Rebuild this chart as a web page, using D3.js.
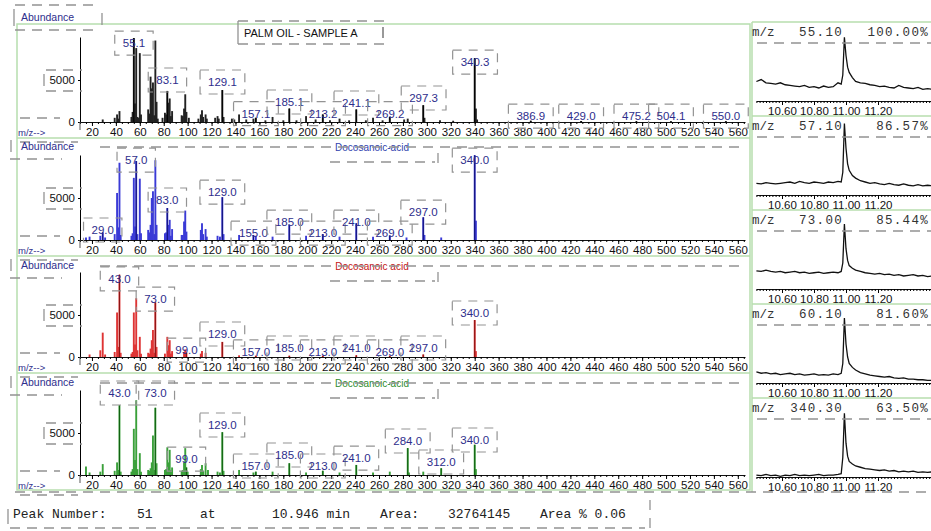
<!DOCTYPE html>
<html>
<head>
<meta charset="utf-8">
<script src="https://cdn.jsdelivr.net/npm/d3@7"></script>
<style>
body { margin: 0; background: #fff; }
svg { display: block; font-family: "Liberation Sans", Arial, sans-serif; }
</style>
</head>
<body>
<div id="chart"></div>
<script>
// mass spectra, [m/z, abundance]
const spectrumA = [[29,300],[39,500],[41,900],[42,400],[43,1300],[53,600],[54,1200],[55,10000],[56,2200],[57,8800],[58,600],[59,500],[60,8200],[61,900],[67,1500],[68,1000],[69,5400],[70,4000],[71,4700],[72,800],[73,9700],[74,2400],[75,400],[79,500],[81,1100],[82,900],[83,3700],[84,2300],[85,2800],[86,700],[87,1300],[95,800],[96,700],[97,1600],[98,3300],[99,1200],[101,500],[109,400],[111,900],[112,1400],[113,600],[115,900],[116,400],[123,500],[125,700],[126,400],[129,3800],[130,600],[137,400],[139,300],[143,900],[149,300],[155,400],[157,500],[165,200],[171,600],[180,200],[185,1600],[191,200],[199,700],[207,300],[213,900],[219,200],[227,400],[235,200],[241,1500],[249,200],[255,500],[263,200],[269,600],[281,300],[284,400],[297,2000],[298,500],[311,200],[322,150],[340,7600],[341,1600],[342,300],[386.9,150],[429,120],[475.2,100],[504.1,100],[550,100]];
const spectrumB = [[15,300],[18,400],[27,500],[29,900],[31,300],[39,700],[41,5600],[42,1500],[43,9200],[44,600],[53,500],[54,800],[55,7400],[56,1600],[57,9400],[58,700],[60,7300],[61,800],[67,1200],[68,900],[69,1800],[70,5000],[71,5800],[72,700],[73,9500],[74,1800],[81,800],[82,900],[83,3800],[84,1800],[85,2400],[86,500],[87,1300],[95,600],[96,600],[97,2200],[98,3500],[99,1000],[111,1200],[112,2000],[113,700],[115,1300],[116,400],[125,500],[127,400],[129,5100],[130,700],[143,600],[155,600],[157,500],[171,400],[185,1800],[199,500],[213,700],[227,400],[241,2000],[255,400],[269,500],[283,300],[297,2700],[298,600],[312,300],[340,10100],[341,2300]];
const spectrumC = [[18,300],[27,800],[29,2900],[31,300],[39,600],[41,5300],[42,1200],[43,9800],[44,500],[53,400],[54,600],[55,5300],[56,1500],[57,7000],[58,800],[60,2400],[61,400],[67,500],[68,400],[69,1000],[70,2000],[71,3200],[72,500],[73,6500],[74,1200],[81,400],[83,2400],[84,1400],[85,2000],[86,400],[87,700],[97,600],[98,900],[99,500],[111,400],[112,700],[115,500],[129,1800],[143,200],[157,150],[185,150],[213,150],[241,200],[269,150],[297,300],[340,4400],[341,700]];
const spectrumD = [[15,1000],[18,300],[27,400],[29,1300],[39,500],[41,1500],[42,600],[43,8300],[44,400],[53,400],[54,700],[55,5500],[56,1800],[57,8900],[58,700],[60,2600],[61,400],[67,600],[68,500],[69,800],[70,1500],[71,4700],[72,600],[73,8000],[74,1400],[81,600],[82,700],[83,3300],[84,1500],[85,3000],[86,600],[87,900],[95,500],[96,600],[97,1500],[98,3200],[99,900],[100,400],[111,700],[112,1200],[113,500],[115,1400],[117,600],[125,400],[127,300],[129,5100],[130,500],[143,600],[155,300],[157,400],[171,400],[185,1400],[199,300],[213,500],[227,300],[241,1200],[255,300],[269,400],[284,3200],[285,300],[297,400],[312,800],[340,3600],[341,700]];

// peak labels: [text, m/z, abundance level of the label]
const labelsA = [["55.1",55.1,9400],["83.1",83.1,5000],["129.1",129.1,4760],["157.1",157.1,1000],["185.1",185.1,2380],["213.2",213.2,1000],["241.1",241.1,2260],["269.2",269.2,1000],["297.3",297.3,2860],["340.3",340.3,7140],["386.9",386.9,700],["429.0",429.0,700],["475.2",475.2,700],["504.1",504.1,700],["550.0",550.0,700]];
const labelsB = [["29.0",29,1190],["57.0",57,9520],["83.0",83,4760],["129.0",129,5710],["155.0",155,830],["185.0",185,2140],["213.0",213,830],["241.0",241,2140],["269.0",269,830],["297.0",297,3330],["340.0",340,9520]];
const labelsC = [["43.0",43,9290],["73.0",73,6900],["99.0",99,830],["129.0",129,2740],["157.0",157,600],["185.0",185,1070],["213.0",213,600],["241.0",241,1070],["269.0",269,600],["297.0",297,1070],["340.0",340,5240]];
const labelsD = [["43.0",43,9760],["73.0",73,9760],["99.0",99,1900],["129.0",129,5950],["157.0",157,1070],["185.0",185,2380],["213.0",213,1070],["241.0",241,2020],["284.0",284,4050],["312.0",312,1550],["340.0",340,4170]];

const panelTitles = ["PALM OIL - SAMPLE A", "Docosanoic-acid", "Docosanoic acid", "Docosanoic-acid"];
const mzTicks = [20,40,60,80,100,120,140,160,180,200,220,240,260,280,300,320,340,360,380,400,420,440,460,480,500,520,540,560];
const abundanceTicks = [0, 5000];

// extracted ion chromatograms (relative intensity)
const ionMz = ["55.10", "57.10", "73.00", "60.10", "340.30"];
const ionPct = ["100.00%", "86.57%", "85.44%", "81.60%", "63.50%"];
const rtTicks = [10.6, 10.8, 11.0, 11.2];
const rtTimes = [10.44,10.47,10.50,10.53,10.56,10.59,10.62,10.65,10.68,10.71,10.74,10.77,10.80,10.83,10.86,10.89,10.92,10.95,10.97,10.98,10.99,11.00,11.01,11.02,11.04,11.06,11.09,11.12,11.15,11.18,11.21,11.24,11.27,11.30,11.33,11.36,11.39,11.42,11.45,11.48,11.51,11.54];
const ion55 = [30,33,28,27,26,28,25,24,23,22,24,21,22,20,23,21,22,28,26,40,98,70,52,44,36,30,28,27,25,24,22,23,21,20,24,21,20,19,21,18,19,18];
const ion57 = [18,17,19,18,17,18,19,20,18,21,19,18,20,19,18,20,19,21,20,35,110,72,48,38,30,26,22,20,18,19,17,16,18,16,15,17,15,14,16,14,15,14];
const ion73 = [28,27,29,27,26,27,25,26,27,25,26,24,25,26,24,25,26,25,27,40,100,62,44,36,32,29,27,25,24,23,24,22,23,21,22,20,21,22,20,21,19,20];
const ion60 = [17,15,16,14,15,13,14,15,13,14,12,13,14,12,13,12,14,13,15,30,100,60,40,30,24,20,16,14,12,11,10,9,10,8,7,8,6,6,5,5,4,4];
const ion340 = [3,2,4,2,3,1,3,2,4,2,3,2,3,4,2,3,3,4,5,30,98,52,32,24,20,17,15,13,12,11,10,11,9,10,8,9,8,9,7,8,7,8];

const W = 931, H = 531;
const dashGray = "#939393";
const frameGreen = "#b7deae";
const navy = "#2e2e8c";

const svg = d3.select("#chart").append("svg")
    .attr("width", W)
    .attr("height", H);

function dashLine(x1, y1, x2, y2) {
    svg.append("line")
        .attr("x1", x1).attr("y1", y1).attr("x2", x2).attr("y2", y2)
        .attr("stroke", dashGray).attr("stroke-width", 1.4)
        .attr("stroke-dasharray", "10,7");
}

// green frames
svg.append("rect").attr("x", 17).attr("y", 24).attr("width", 733).attr("height", 466)
    .attr("fill", "none").attr("stroke", frameGreen).attr("stroke-width", 1.5);
[138, 256, 373].forEach(yy => {
    svg.append("line").attr("x1", 17).attr("x2", 750).attr("y1", yy).attr("y2", yy)
        .attr("stroke", frameGreen).attr("stroke-width", 1.5);
});
svg.append("line").attr("x1", 752).attr("x2", 752).attr("y1", 22).attr("y2", 492)
    .attr("stroke", frameGreen).attr("stroke-width", 1.5);

const x = d3.scaleLinear().domain([10, 566]).range([80, 745]);
const minorTicks = d3.range(10, 566, 5);

const panels = [
    { data: spectrumA, labels: labelsA, title: panelTitles[0], color: "#222", dark: "#000", titleColor: "#111", base: 122, abY: 17, titleY: 33 },
    { data: spectrumB, labels: labelsB, title: panelTitles[1], color: "#3a3ad6", dark: "#12127a", titleColor: "#2f3fae", base: 240, abY: 146, titleY: 147 },
    { data: spectrumC, labels: labelsC, title: panelTitles[2], color: "#de3434", dark: "#8c1414", titleColor: "#c41414", base: 357, abY: 265, titleY: 266 },
    { data: spectrumD, labels: labelsD, title: panelTitles[3], color: "#3aa03a", dark: "#126212", titleColor: "#2e8b2e", base: 475, abY: 382, titleY: 383 }
];

// decorations around the top-left "Abundance" label
dashLine(15, 5, 100, 5);
dashLine(15, 30, 100, 30);
svg.append("line").attr("x1", 14).attr("x2", 14).attr("y1", 9).attr("y2", 26).attr("stroke", dashGray).attr("stroke-width", 1.3);
svg.append("line").attr("x1", 102).attr("x2", 102).attr("y1", 13).attr("y2", 25).attr("stroke", dashGray).attr("stroke-width", 1.3);

panels.forEach((p, i) => {
    const y = d3.scaleLinear().domain([0, 10120]).range([p.base, p.base - 85]);
    const g = svg.append("g");

    // title with its dashed box
    if (i === 0) {
        dashLine(238, 21, 385, 21);
        dashLine(238, 44, 385, 44);
        svg.append("line").attr("x1", 238).attr("x2", 238).attr("y1", 21).attr("y2", 44).attr("stroke", dashGray).attr("stroke-width", 1.3);
        svg.append("line").attr("x1", 383).attr("x2", 383).attr("y1", 27).attr("y2", 38).attr("stroke", "#555").attr("stroke-width", 1.2);
        g.append("text").attr("x", 244).attr("y", 37).attr("font-size", 11).attr("fill", p.titleColor).text(p.title);
    } else {
        dashLine(100, p.titleY, 745, p.titleY);
        dashLine(330, p.titleY + 15, 435, p.titleY + 15);
        svg.append("line").attr("x1", 438).attr("x2", 438).attr("y1", p.titleY + 6).attr("y2", p.titleY + 16).attr("stroke", dashGray).attr("stroke-width", 1.3);
        g.append("rect").attr("x", 333).attr("y", p.titleY - 6).attr("width", 80).attr("height", 11).attr("fill", "#fff");
        g.append("text").attr("x", 372).attr("y", p.titleY + 3.5).attr("text-anchor", "middle")
            .attr("font-size", 10).attr("fill", p.titleColor).text(p.title);
    }

    // peaks
    g.selectAll("line.peak").data(p.data).join("line")
        .attr("class", "peak")
        .attr("x1", d => x(d[0])).attr("x2", d => x(d[0]))
        .attr("y1", y(0)).attr("y2", d => y(Math.min(d[1], 10120)))
        .attr("stroke", p.color).attr("stroke-width", 1.9);
    const labelled = new Set(p.labels.map(l => Math.round(l[1])));
    g.selectAll("line.main").data(p.data.filter(d => labelled.has(Math.round(d[0])))).join("line")
        .attr("class", "main")
        .attr("x1", d => x(d[0])).attr("x2", d => x(d[0]))
        .attr("y1", y(0)).attr("y2", d => y(Math.min(d[1], 10120)))
        .attr("stroke", p.dark).attr("stroke-width", 1.1);

    // axes
    g.append("g").attr("transform", `translate(0,${p.base})`)
        .call(d3.axisBottom(x).tickValues(minorTicks).tickSize(2).tickFormat("").tickSizeOuter(0))
        .call(a => a.select(".domain").attr("stroke", "#111"));
    g.append("g").attr("transform", `translate(0,${p.base})`)
        .call(d3.axisBottom(x).tickValues(mzTicks).tickSize(4).tickPadding(2).tickSizeOuter(0))
        .attr("font-size", 11.5).attr("font-family", "Liberation Sans, Arial, sans-serif")
        .call(a => a.select(".domain").remove())
        .call(a => a.selectAll("text").attr("fill", "#111"));
    g.append("g").attr("transform", "translate(80,0)")
        .call(d3.axisLeft(y).tickValues(abundanceTicks).tickFormat(d3.format("d")).tickSize(2).tickPadding(3).tickSizeOuter(0))
        .attr("font-size", 11.5).attr("font-family", "Liberation Sans, Arial, sans-serif")
        .call(a => a.selectAll("text").attr("fill", "#111"));
    g.append("line").attr("x1", 80).attr("x2", 80).attr("y1", p.base).attr("y2", p.base + 8).attr("stroke", "#555");

    // dashed boxes round the y tick labels
    dashLine(46, y(5000) - 10, 82, y(5000) - 10);
    dashLine(46, y(5000) + 11, 82, y(5000) + 11);
    g.append("line").attr("x1", 44).attr("x2", 44).attr("y1", y(5000) - 6).attr("y2", y(5000) + 6).attr("stroke", dashGray).attr("stroke-width", 1.3);
    dashLine(20, p.base - 4, 60, p.base - 4);
    dashLine(20, p.base + 20, 78, p.base + 20);

    // labels
    g.append("text").attr("x", 21).attr("y", p.abY + 4).attr("font-size", 10.5).attr("fill", navy).text("Abundance");
    if (i > 0) {
        g.append("line").attr("x1", 11).attr("x2", 11).attr("y1", p.abY - 6).attr("y2", p.abY + 6).attr("stroke", dashGray).attr("stroke-width", 1.3);
        dashLine(10, p.abY + 13, 62, p.abY + 13);
    }
    g.append("text").attr("x", 18).attr("y", p.base + 14).attr("font-size", 9.5).attr("fill", navy).text("m/z-->");

    p.labels.forEach(l => {
        const t = g.append("text")
            .attr("x", x(l[1])).attr("y", y(l[2])).attr("dy", "0.35em")
            .attr("text-anchor", "middle").attr("font-size", 11.5).attr("fill", navy)
            .text(l[0]);
        const w = t.node().getComputedTextLength();
        g.append("rect")
            .attr("x", x(l[1]) - w / 2 - 8).attr("y", y(l[2]) - 12)
            .attr("width", w + 16).attr("height", 24)
            .attr("fill", "none").attr("stroke", dashGray).attr("stroke-width", 1.2)
            .attr("stroke-dasharray", "9,7");
    });
});

// right column: ion chromatograms
const t = d3.scaleLinear().domain([10.44, 11.54]).range([756.4, 932.4]);
const ions = [ion55, ion57, ion73, ion60, ion340];
ions.forEach((vals, i) => {
    const top = 22 + i * 94;
    const yc = d3.scaleLinear().domain([0, 100]).range([top + 79, top + 14]);
    const g = svg.append("g");

    g.append("line").attr("x1", 752).attr("x2", 931).attr("y1", top).attr("y2", top)
        .attr("stroke", frameGreen).attr("stroke-width", 1.5);
    dashLine(757, top + 21, 931, top + 21);

    const mono = "Liberation Mono, DejaVu Sans Mono, monospace";
    g.append("text").attr("x", 752).attr("y", top + 14).attr("font-family", mono)
        .attr("font-size", 12.5).attr("fill", "#333").text("m/z");
    g.append("text").attr("x", 843).attr("y", top + 14).attr("font-family", mono)
        .attr("font-size", 12.5).attr("letter-spacing", 1.3).attr("text-anchor", "end").attr("fill", "#333").text(ionMz[i]);
    g.append("text").attr("x", 929).attr("y", top + 14).attr("font-family", mono)
        .attr("font-size", 12.5).attr("letter-spacing", 1.3).attr("text-anchor", "end").attr("fill", "#333").text(ionPct[i]);

    const line = d3.line().x((d, k) => t(rtTimes[k])).y(d => yc(d));
    g.append("path").datum(vals).attr("d", line)
        .attr("fill", "none").attr("stroke", "#111").attr("stroke-width", 1.3);

    g.append("g").attr("transform", `translate(0,${top + 79})`)
        .call(d3.axisBottom(t).tickValues(d3.range(10.44, 11.54, 0.02)).tickSize(2).tickFormat("").tickSizeOuter(0))
        .call(a => a.select(".domain").attr("stroke", "#111"));
    g.append("g").attr("transform", `translate(0,${top + 79})`)
        .call(d3.axisBottom(t).tickValues(rtTicks).tickSize(4).tickPadding(2).tickFormat(d3.format(".2f")).tickSizeOuter(0))
        .attr("font-size", 11.5).attr("font-family", "Liberation Sans, Arial, sans-serif")
        .call(a => a.select(".domain").remove())
        .call(a => a.selectAll("text").attr("fill", "#111"));
});

// footer
dashLine(15, 492, 931, 492);
dashLine(10, 528, 645, 528);
svg.append("line").attr("x1", 8).attr("x2", 8).attr("y1", 509).attr("y2", 524).attr("stroke", dashGray).attr("stroke-width", 1.3);
svg.append("line").attr("x1", 650).attr("x2", 650).attr("y1", 500).attr("y2", 510).attr("stroke", dashGray).attr("stroke-width", 1.3);
svg.append("line").attr("x1", 650).attr("x2", 650).attr("y1", 518).attr("y2", 528).attr("stroke", dashGray).attr("stroke-width", 1.3);
const footer = [["Peak Number:", 13], ["51", 137], ["at", 200], ["10.946 min", 272], ["Area:", 380], ["32764145", 448], ["Area % 0.06", 540]];
svg.selectAll("text.footer").data(footer).join("text")
    .attr("class", "footer")
    .attr("x", d => d[1]).attr("y", 518)
    .attr("font-family", "Liberation Mono, DejaVu Sans Mono, monospace")
    .attr("font-size", 13).attr("fill", "#222")
    .text(d => d[0]);
</script>
</body>
</html>
